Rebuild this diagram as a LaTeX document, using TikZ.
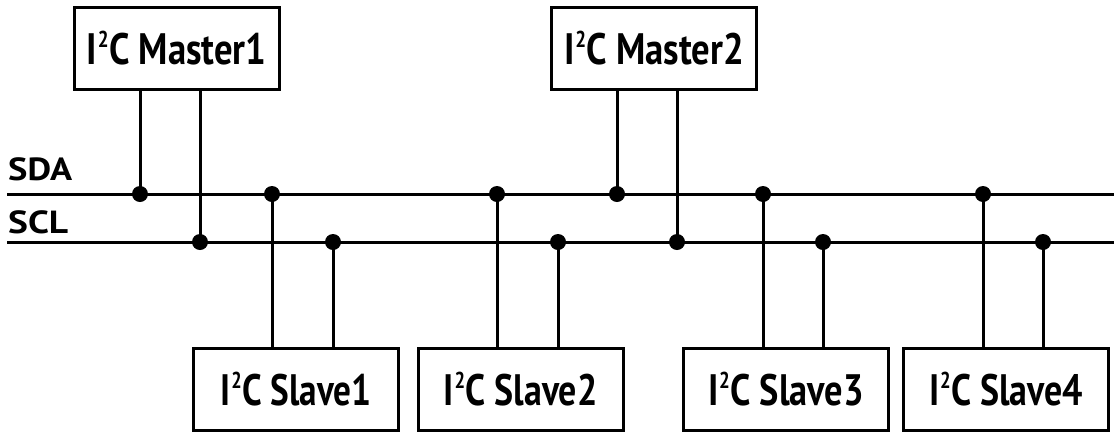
\documentclass[tikz,border=0pt]{standalone}
\usepackage{fontspec}
\setmainfont{PT Sans}
% small raised "2" of I2C, top aligned with the capitals
\newcommand\isq{I\kern1pt\raisebox{17pt}{\fontsize{23}{23}\selectfont 2}\kern0.5pt C}
% set a text to a given width, keeping its height
\newcommand\fitto[2]{\resizebox{#1}{\height}{#2}}
\begin{document}
\begin{tikzpicture}[x=1pt,y=-1pt,
  wire/.style={line width=3pt},
  dev/.style={draw,line width=3pt,minimum width=205pt,minimum height=82pt,inner sep=0pt,
    font=\fontsize{44}{48}\selectfont\bfseries},
  tap/.style={circle,fill,inner sep=0pt,minimum size=16pt},
  buslabel/.style={anchor=base west,inner sep=0pt,font=\fontsize{32}{36}\selectfont\bfseries}]
\useasboundingbox (0,0) rectangle (1114,432);

% devices
\node[dev] (m1) at (176.5,48) {\fitto{180pt}{\isq{} Master1}};
\node[dev] (m2) at (654,48) {\fitto{180pt}{\isq{} Master2}};
\node[dev] (s1) at (296,389.5) {\fitto{151pt}{\isq{} Slave1}};
\node[dev] (s2) at (520.5,389.5) {\fitto{154pt}{\isq{} Slave2}};
\node[dev] (s3) at (786,389.5) {\fitto{156pt}{\isq{} Slave3}};
\node[dev] (s4) at (1006,389.5) {\fitto{154pt}{\isq{} Slave4}};

% bus lines
\coordinate (sdaL) at (7,194);
\coordinate (sdaR) at (1114,194);
\coordinate (sclL) at (7,242);
\coordinate (sclR) at (1114,242);
\draw[wire] (sdaL) -- (sdaR);
\draw[wire] (sclL) -- (sclR);
\node[buslabel] (sda) at (8,180) {\fitto{64pt}{SDA}};
\node[buslabel] (scl) at (8,233) {\fitto{60pt}{SCL}};

% taps on SDA
\node[tap] (a1) at (140,194) {};
\node[tap] (a2) at (272,194) {};
\node[tap] (a3) at (497,194) {};
\node[tap] (a4) at (617,194) {};
\node[tap] (a5) at (763,194) {};
\node[tap] (a6) at (983,194) {};
% taps on SCL
\node[tap] (c1) at (200,242) {};
\node[tap] (c2) at (333,242) {};
\node[tap] (c3) at (558,242) {};
\node[tap] (c4) at (677,242) {};
\node[tap] (c5) at (823,242) {};
\node[tap] (c6) at (1043,242) {};

% masters to the bus
\draw[wire] (m1.south -| a1) -- (a1.center);
\draw[wire] (m1.south -| c1) -- (c1.center);
\draw[wire] (m2.south -| a4) -- (a4.center);
\draw[wire] (m2.south -| c4) -- (c4.center);
% slaves to the bus
\draw[wire] (a2.center) -- (s1.north -| a2);
\draw[wire] (c2.center) -- (s1.north -| c2);
\draw[wire] (a3.center) -- (s2.north -| a3);
\draw[wire] (c3.center) -- (s2.north -| c3);
\draw[wire] (a5.center) -- (s3.north -| a5);
\draw[wire] (c5.center) -- (s3.north -| c5);
\draw[wire] (a6.center) -- (s4.north -| a6);
\draw[wire] (c6.center) -- (s4.north -| c6);
\end{tikzpicture}
\end{document}
